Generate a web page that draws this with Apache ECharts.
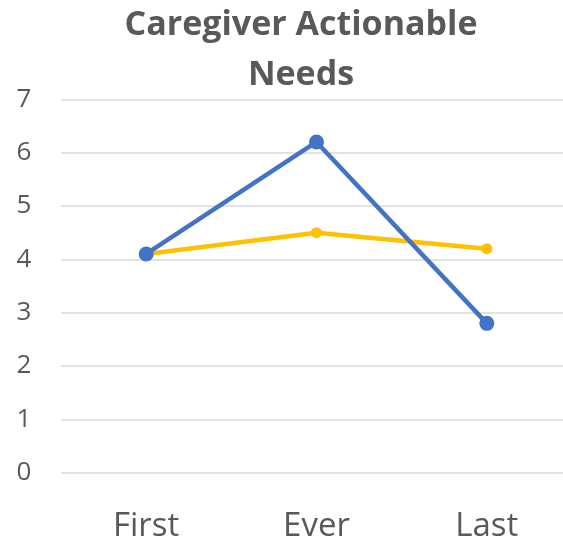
<!DOCTYPE html>
<html><head><meta charset="utf-8">
<script src="https://cdn.jsdelivr.net/npm/echarts@6/dist/echarts.min.js"></script>
<style>html,body{margin:0;padding:0;background:#fff}#c{width:563px;height:544px}</style>
</head><body><div id="c"></div>
<script>
const categories = ['First', 'Ever', 'Last'];
const blueValues = [4.1, 6.2, 2.8];
const yellowValues = [4.1, 4.5, 4.2];
const yTicks = [0, 1, 2, 3, 4, 5, 6, 7];

const chart = echarts.init(document.getElementById('c'));
chart.setOption({
  animation: false,
  title: {
    text: 'Caregiver Actionable\nNeeds',
    left: 296, top: -5, textAlign: 'center',
    textStyle: { fontFamily: 'Open Sans', fontWeight: 'bold', fontSize: 34, color: '#595959', lineHeight: 50, align: 'center' }
  },
  grid: { left: 61, right: -9, top: 99.3, bottom: 544 - 472.7, containLabel: false, outerBoundsMode: 'none' },
  xAxis: {
    type: 'category', data: categories, boundaryGap: true,
    axisLine: { show: false }, axisTick: { show: false },
    axisLabel: { fontFamily: 'Open Sans', fontSize: 33, color: '#595959', margin: 37 }
  },
  yAxis: {
    type: 'value', min: yTicks[0], max: yTicks[yTicks.length - 1], interval: 1,
    axisLine: { show: false }, axisTick: { show: false },
    axisLabel: { fontFamily: 'Open Sans', fontSize: 26, color: '#595959', margin: 37, align: 'center' },
    splitLine: { lineStyle: { color: '#d9d9d9', width: 1.5 } }
  },
  series: [
    { type: 'line', data: yellowValues, symbol: 'circle', symbolSize: 11,
      lineStyle: { color: '#FFC000', width: 4.5 }, itemStyle: { color: '#FFC000' } },
    { type: 'line', data: blueValues, symbol: 'circle', symbolSize: 15,
      lineStyle: { color: '#4472C4', width: 4.5 }, itemStyle: { color: '#4472C4' } }
  ]
});
</script></body></html>
